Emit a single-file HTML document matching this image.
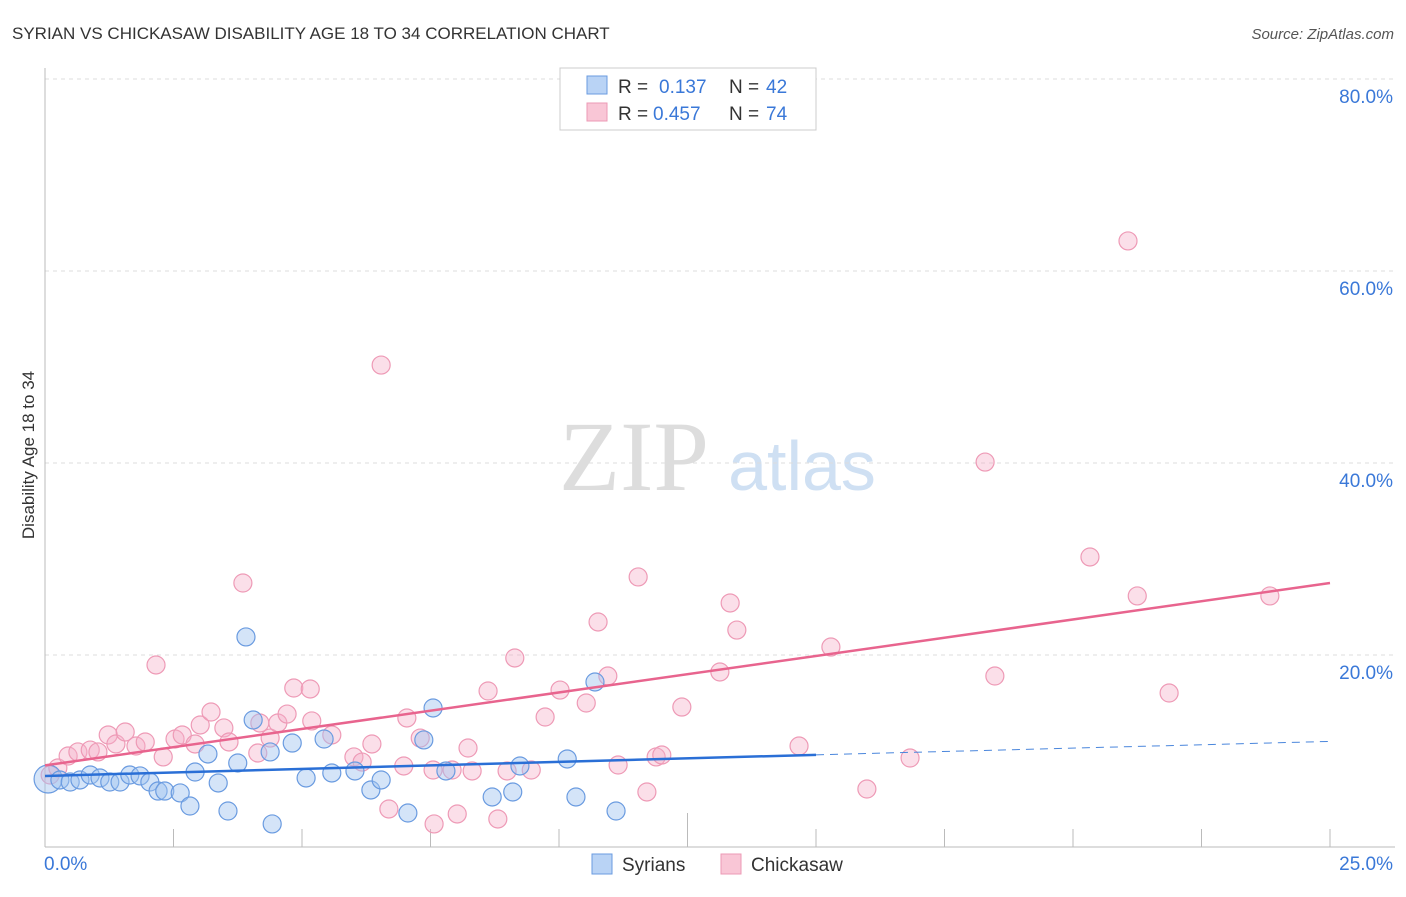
<!DOCTYPE html>
<html><head><meta charset="utf-8"><style>
body{margin:0;background:#fff;font-family:"Liberation Sans",sans-serif}
</style></head><body>
<svg width="1406" height="892" xmlns="http://www.w3.org/2000/svg" id="chart">
<text x="12" y="39" font-size="17" fill="#333">SYRIAN VS CHICKASAW DISABILITY AGE 18 TO 34 CORRELATION CHART</text>
<text x="1394" y="39" font-size="15" fill="#555" text-anchor="end" font-style="italic">Source: ZipAtlas.com</text>
<text x="34" y="455" font-size="17" fill="#333" text-anchor="middle" transform="rotate(-90 34 455)">Disability Age 18 to 34</text>
<g><text x="634" y="490" font-size="100" fill="#ddd" font-family="Liberation Serif" text-anchor="middle">ZIP</text><text x="802" y="490" font-size="70" fill="#cfe0f3" text-anchor="middle">atlas</text></g>
<g id="grid"></g><g id="axes"></g><g id="pts"></g><g id="lines"></g>
<g>
<rect x="560" y="68" width="256" height="62" fill="#fff" stroke="#ccc"/>
<rect x="587" y="76" width="20" height="18" fill="#b9d3f5" stroke="#6a9be0"/>
<text x="618" y="93" font-size="19" fill="#333">R = </text><text x="659" y="93" font-size="19" fill="#3a78d8">0.137</text>
<text x="729" y="93" font-size="19" fill="#333">N = </text><text x="766" y="93" font-size="19" fill="#3a78d8">42</text>
<rect x="587" y="103" width="20" height="18" fill="#f9c6d6" stroke="#ec9ab5"/>
<text x="618" y="120" font-size="19" fill="#333">R = </text><text x="653" y="120" font-size="19" fill="#3a78d8">0.457</text>
<text x="729" y="120" font-size="19" fill="#333">N = </text><text x="766" y="120" font-size="19" fill="#3a78d8">74</text>
</g>
<g>
<rect x="592" y="854" width="20" height="20" fill="#b9d3f5" stroke="#6a9be0"/><text x="622" y="871" font-size="19" fill="#333">Syrians</text>
<rect x="721" y="854" width="20" height="20" fill="#f9c6d6" stroke="#ec9ab5"/><text x="751" y="871" font-size="19" fill="#333">Chickasaw</text>
</g>
</svg>
<script>
const syrX=[0.06,0.29,0.49,0.68,0.88,1.07,1.26,1.46,1.65,1.85,2.04,2.2,2.33,2.63,2.82,2.92,3.17,3.37,3.56,3.75,3.91,4.05,4.38,4.42,4.81,5.08,5.43,5.58,6.03,6.34,6.54,7.06,7.37,7.55,7.8,8.7,9.1,9.24,10.16,10.33,10.7,11.11];
const syrY=[7.08,6.98,6.77,6.98,7.5,7.19,6.77,6.77,7.5,7.4,6.77,5.83,5.83,5.63,4.27,7.81,9.69,6.67,3.75,8.75,21.88,13.23,9.9,2.4,10.83,7.19,11.25,7.71,7.92,5.94,6.98,3.54,11.15,14.48,7.92,5.21,5.73,8.44,9.17,5.21,17.19,3.75];
const chkX=[0.1,0.25,0.45,0.64,0.88,1.03,1.23,1.38,1.56,1.77,1.95,2.16,2.3,2.53,2.67,2.92,3.02,3.23,3.48,3.58,3.85,4.14,4.18,4.38,4.53,4.71,4.84,5.16,5.19,5.58,6.01,6.17,6.36,6.54,6.69,6.98,7.04,7.3,7.55,7.57,7.92,8.02,8.23,8.31,8.62,8.81,8.99,9.14,9.46,9.73,10.02,10.53,10.76,10.95,11.15,11.54,11.71,11.89,12.0,12.39,13.13,13.33,13.46,14.67,15.29,15.99,16.83,18.29,18.48,20.33,21.07,21.25,21.87,23.83];
const chkY=[7.5,8.23,9.48,9.9,10.1,9.9,11.67,10.73,11.98,10.52,10.94,18.96,9.38,11.25,11.67,10.73,12.71,14.06,12.4,10.94,27.5,9.79,12.92,11.35,12.92,13.85,16.56,16.46,13.13,11.67,9.38,8.85,10.73,50.2,3.96,8.44,13.44,11.35,8.02,2.4,8.02,3.44,10.31,7.92,16.25,2.92,7.92,19.69,8.02,13.54,16.35,15.0,23.44,17.81,8.54,28.13,5.73,9.38,9.58,14.58,18.23,25.42,22.6,10.52,20.83,6.04,9.27,40.1,17.81,30.21,63.13,26.15,16.04,26.15];
const syrTrend=[7.4,9.6,11.0];
const chkTrend=[8.5,27.5];
const yTicks=[20,40,60,80];
const xLabels=["0.0%","25.0%"];
const NS="http://www.w3.org/2000/svg";
const X0=45,X1=1330,Y0=847,YS=9.6;
const sx=v=>X0+(X1-X0)*v/25, sy=v=>Y0-v*YS;
function mk(t,a,p){const e=document.createElementNS(NS,t);for(const k in a)e.setAttribute(k,a[k]);document.getElementById(p).appendChild(e);return e;}
yTicks.forEach(t=>{
 const l=mk('line',{x1:X0,x2:1395,y1:sy(t),y2:sy(t),stroke:'#ddd','stroke-dasharray':'4 4'},'grid');
 
 
 const tx=mk('text',{x:1393,y:sy(t)+24,'font-size':19,fill:'#3a78d8','text-anchor':'end'},'grid');
 tx.textContent=t.toFixed(1)+'%';
 
 
});
let ax=mk('line',{x1:X0,x2:X0,y1:68,y2:Y0,stroke:'#bbb'},'axes');


ax=mk('line',{x1:X0,x2:1395,y1:Y0,y2:Y0,stroke:'#bbb'},'axes');


for(let i=1;i<=10;i++){const x=sx(i*2.5);const tk=mk('line',{x1:x,x2:x,y1:(i==5)?813:829,y2:Y0,stroke:'#bbb'},'axes');
 
 }
xLabels.forEach((s,i)=>{const t=mk('text',{x:i?1393:44,y:870,'font-size':19,fill:'#3a78d8','text-anchor':i?'end':'start'},'axes');t.textContent=s;
 
 });
chkX.forEach((v,i)=>{const c=mk('circle',{cx:sx(v),cy:sy(chkY[i]),r:9,fill:'rgba(246,175,200,0.4)',stroke:'#ee9ab6','stroke-width':1.2},'pts');
 
 });
syrX.forEach((v,i)=>{const c=mk('circle',{cx:sx(v),cy:sy(syrY[i]),r:i==0?14:9,fill:'rgba(160,196,240,0.45)',stroke:'#6a9be0','stroke-width':1.2},'pts');
 
 });
let tl=mk('line',{x1:sx(0),y1:sy(chkTrend[0]),x2:sx(25),y2:sy(chkTrend[1]),stroke:'#e8648e','stroke-width':2.5},'lines');


tl=mk('line',{x1:sx(0),y1:sy(syrTrend[0]),x2:sx(15),y2:sy(syrTrend[1]),stroke:'#2a6fd6','stroke-width':2.5},'lines');


tl=mk('line',{x1:sx(15),y1:sy(syrTrend[1]),x2:sx(25),y2:sy(syrTrend[2]),stroke:'#4a86dc','stroke-width':1,'stroke-dasharray':'8 6'},'lines');


</script>
</body></html>
